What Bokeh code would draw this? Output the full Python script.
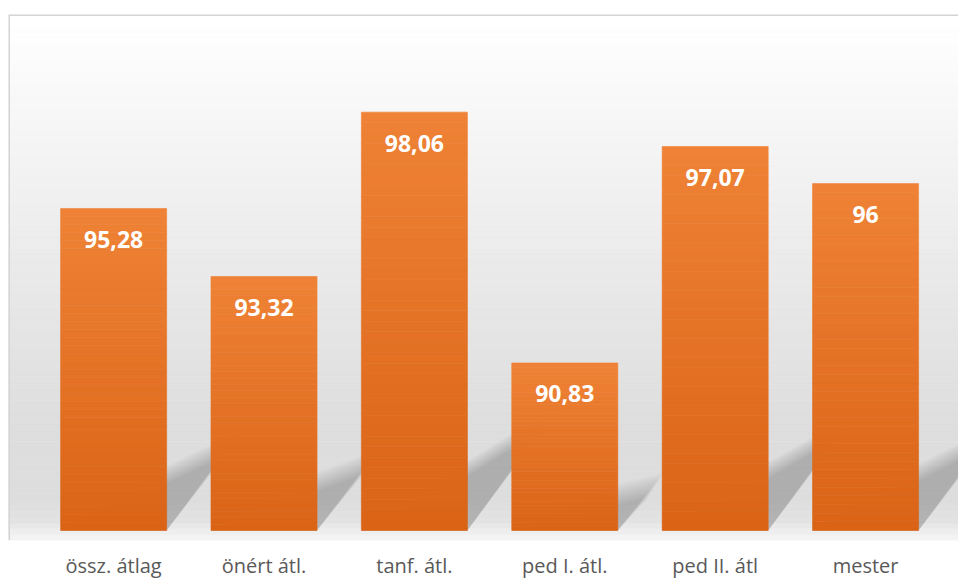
import numpy as np
from bokeh.plotting import figure
from bokeh.models import Range1d, FixedTicker, Span, LabelSet, ColumnDataSource
from bokeh.core.properties import value
from bokeh.embed import file_html
from bokeh.resources import INLINE

# ---- data ----
categories = ["össz. átlag", "önért átl.", "tanf. átl.", "ped I. átl.", "ped II. átl", "mester"]
values = [95.28, 93.32, 98.06, 90.83, 97.07, 96]
value_labels = ["95,28", "93,32", "98,06", "90,83", "97,07", "96"]
base_value = 86

# ---- layout / style ----
Y0, Y1 = 85.712, 100.875
X0, X1 = -0.699, 5.618
BAR_W = 0.705
PXU_Y = 34.69   # px per y unit (style only)
PXU_X = 150.4   # px per x unit

p = figure(width=958, height=583, x_range=Range1d(X0, X1), y_range=Range1d(Y0, Y1),
           output_backend="svg", toolbar_location=None,
           min_border_left=8, min_border_right=0, min_border_top=14, min_border_bottom=43)
p.grid.visible = False
p.yaxis.visible = False
p.outline_line_color = None
p.background_fill_color = "white"
p.border_fill_color = "white"


def hexcol(r, g, b):
    return "#%02x%02x%02x" % (int(round(r)), int(round(g)), int(round(b)))


# background vertical gradient (frac 0 = frame bottom, 1 = frame top)
stop_f = [0.0, 0.02, 0.04, 0.08, 0.2, 0.36, 0.55, 0.74, 0.9, 0.96, 1.0]
stop_g = [246, 236, 226, 221, 221, 227, 235, 244, 251, 254, 255]
NB = 90
ys = np.linspace(Y0, Y1, NB + 1)
bg_cols = []
for i in range(NB):
    f = (i + 0.5) / NB
    g = np.interp(f, stop_f, stop_g)
    bg_cols.append(hexcol(g, g, g))
p.quad(left=X0, right=X1, bottom=ys[:-1], top=ys[1:], fill_color=bg_cols,
       line_color=bg_cols, line_width=0.6)

# perspective shadows (soft sheared quads behind each bar)
xs_idx = list(range(len(values)))
blur = [-12, -9, -6, -3, 0, 3, 6, 9, 12]
for b in blur:
    pxs, pys = [], []
    for c, v in zip(xs_idx, values):
        hu = v - base_value
        hpx = hu * PXU_Y
        dx = (0.18 * hpx + 8 - b * 0.6) / PXU_X
        l = c - BAR_W / 2
        r = c + BAR_W / 2
        yr = base_value + 0.27 * hu - b / PXU_Y
        yl = base_value + 0.115 * hu - b / PXU_Y
        pxs.append([l, r, r + dx, l + dx])
        pys.append([base_value, base_value, yr, yl])
    p.patches(pxs, pys, fill_color="black", fill_alpha=0.025, line_color=None)

# bars with vertical gradient
top_rgb = np.array([239, 130, 54])
bot_rgb = np.array([218, 99, 22])
M = 40
ql, qr, qb, qt, qc = [], [], [], [], []
for c, v in zip(xs_idx, values):
    for j in range(M):
        f = (j + 0.5) / M
        col = bot_rgb + (top_rgb - bot_rgb) * f
        ql.append(c - BAR_W / 2)
        qr.append(c + BAR_W / 2)
        qb.append(base_value + (v - base_value) * j / M)
        qt.append(base_value + (v - base_value) * (j + 1) / M)
        qc.append(hexcol(*col))
p.quad(left=ql, right=qr, bottom=qb, top=qt, fill_color=qc, line_color=qc, line_width=0.6)

# value labels
src = ColumnDataSource(dict(x=xs_idx, y=values, t=value_labels))
labels = LabelSet(x="x", y="y", text="t", source=src, y_offset=-31,
                  text_align="center", text_baseline="middle",
                  text_font=value("Open Sans"), text_font_style="bold",
                  text_font_size="23px", text_color="white")
p.add_layout(labels)

# x axis with category labels
ax = p.xaxis[0]
ax.ticker = FixedTicker(ticks=xs_idx)
ax.major_label_overrides = {i: c for i, c in enumerate(categories)}
ax.axis_line_color = None
ax.major_tick_line_color = None
ax.minor_tick_line_color = None
ax.major_label_text_font = "Open Sans"
ax.major_label_text_font_size = "20px"
ax.major_label_text_color = "#595959"
ax.major_label_standoff = 5

# chart frame lines (top / left)
p.add_layout(Span(location=Y1, dimension="width", line_color="#d4d4d4", line_width=3))
p.add_layout(Span(location=X0, dimension="height", line_color="#d4d4d4", line_width=3))

open("out.html", "w").write(file_html(p, INLINE))
